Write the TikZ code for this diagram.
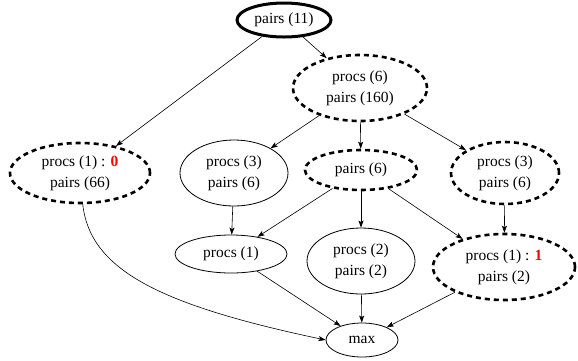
\documentclass[tikz,border=0pt]{standalone}
\usepackage{fontspec}
\setmainfont{Liberation Serif}
\usetikzlibrary{shapes.geometric,arrows.meta}
\begin{document}
\begin{tikzpicture}[x=1pt,y=-1pt,
  every node/.style={font=\fontsize{15.5}{21}\selectfont, align=center},
  ell/.style={ellipse, draw, inner sep=0pt, line width=0.8pt},
  dashell/.style={ell, line width=2.6pt, dash pattern=on 5pt off 4pt},
  thickell/.style={ell, line width=3pt},
  arr/.style={-{Stealth[length=7pt,width=5pt,inset=1.5pt]}, line width=0.6pt}]
\useasboundingbox (0,0) rectangle (578,360);
\node[thickell, minimum width=94pt, minimum height=34pt] (p11) at (284,20) {pairs (11)};
\node[dashell, minimum width=134pt, minimum height=66pt] (p6) at (360,88) {procs (6)\\pairs (160)};
\node[dashell, minimum width=140pt, minimum height=60pt] (p10) at (80,173) {procs (1) : \textcolor{red}{\textbf{0}}\\pairs (66)};
\node[ell, minimum width=108pt, minimum height=66pt] (p3l) at (234,173) {procs (3)\\pairs (6)};
\node[dashell, minimum width=112pt, minimum height=40pt] (pr6) at (361,170) {pairs (6)};
\node[dashell, minimum width=108pt, minimum height=62pt] (p3r) at (505,173) {procs (3)\\pairs (6)};
\node[ell, minimum width=112pt, minimum height=38pt] (p1) at (231,254) {procs (1)};
\node[ell, minimum width=108pt, minimum height=66pt] (p2) at (361,261) {procs (2)\\pairs (2)};
\node[dashell, minimum width=142pt, minimum height=66pt] (p11b) at (504,267) {procs (1) : \textcolor{red}{\textbf{1}}\\pairs (2)};
\node[ell, minimum width=72pt, minimum height=34pt] (max) at (362,340) {max};
\draw[arr] (p11) -- (p10);
\draw[arr] (p11) -- (p6);
\draw[arr] (p6) -- (p3l);
\draw[arr] (p6) -- (pr6);
\draw[arr] (p6) -- (p3r);
\draw[arr] (p3l) -- (p1);
\draw[arr] (pr6) -- (p1);
\draw[arr] (pr6) -- (p2);
\draw[arr] (pr6) -- (p11b);
\draw[arr] (p3r) -- (p11b);
\draw[arr] (p1) -- (max);
\draw[arr] (p2) -- (max);
\draw[arr] (p11b) -- (max);
\draw[arr] (p10.275) .. controls (90,270) and (160,305) .. (max.west);
\end{tikzpicture}
\end{document}
